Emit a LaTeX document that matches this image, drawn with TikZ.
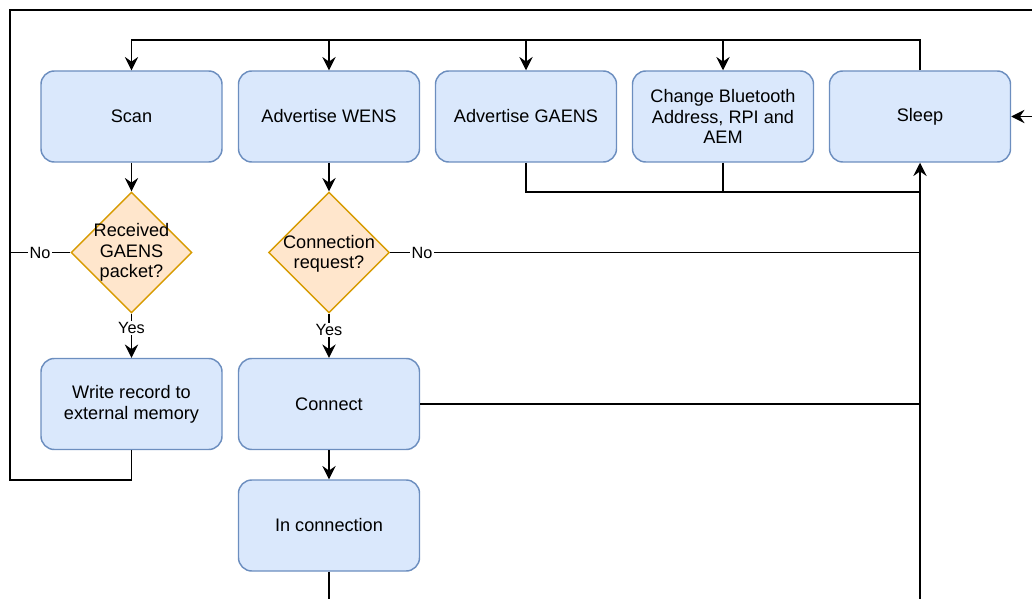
\documentclass[tikz,border=0pt]{standalone}
\usepackage{fontspec}
\setmainfont{Liberation Sans}
\usetikzlibrary{arrows.meta,shapes.geometric}
\definecolor{boxfill}{HTML}{DAE8FC}
\definecolor{boxline}{HTML}{6C8EBF}
\definecolor{diafill}{HTML}{FFE6CC}
\definecolor{dialine}{HTML}{D79B00}
\begin{document}
\begin{tikzpicture}[x=0.75pt,y=-0.75pt,
  box/.style={draw=boxline, fill=boxfill, rounded corners=10pt, minimum width=135.75pt, minimum height=68.25pt, line width=1.1pt, align=center, font=\fontsize{13.6}{15.6}\selectfont, inner sep=0pt},
  dia/.style={draw=dialine, fill=diafill, diamond, minimum width=90.75pt, minimum height=90.75pt, line width=1.1pt, inner sep=0pt},
  txt/.style={align=center, font=\fontsize{13.6}{15.4}\selectfont, inner sep=0pt},
  lbl/.style={fill=white, font=\fontsize{12.2}{14}\selectfont, inner sep=1pt},
  conn/.style={line width=1.1pt, black},
  arr/.style={conn, -{Stealth[length=10pt,width=10pt,inset=3.5pt]}}
]
\useasboundingbox (0,0) rectangle (1032,599);
\clip (0,0) rectangle (1032,599);

% top row
\node[box] (scan) at (131.5,116.5) {Scan};
\node[box] (wens) at (329,116.5) {Advertise WENS};
\node[box] (gaens) at (526,116.5) {Advertise GAENS};
\node[box] (change) at (723,116.5) {Change Bluetooth\\Address, RPI and\\AEM};
\node[box] (sleep) at (920,116.5) {Sleep};

% decisions
\node[dia] (d1) at (131.5,252.5) {};
\node[txt] (d1t) at (d1) {Received\\GAENS\\packet?};
\node[dia] (d2) at (329,252.5) {};
\node[txt] (d2t) at ([yshift=-1pt]d2) {Connection\\request?};

% lower boxes
\node[box] (write) at (131.5,404) {Write record to\\external memory};
\node[box] (connect) at (329,404) {Connect};
\node[box] (inconn) at (329,525.5) {In connection};

% distribution bus from Sleep
\coordinate (bus) at (920,40);
\draw[arr] (sleep.north) -- (bus) -| (scan.north);
\draw[arr] (wens.north |- bus) -- (wens.north);
\draw[arr] (gaens.north |- bus) -- (gaens.north);
\draw[arr] (change.north |- bus) -- (change.north);

% scan branch
\draw[arr] (scan.south) -- (d1.north);
\draw[arr] (d1.south) -- node[lbl, pos=0.33] (yes1) {Yes} (write.north);
\coordinate (lft) at (10,252.5);
\draw[conn] (d1.west) -- node[lbl, pos=0.5] (no1) {No} (lft);
\draw[arr] (write.south) -- (131.5,480) -- (10,480) -- (10,10) -- (1050,10) -- (1050,116.5) -- (sleep.east);

% advertise WENS branch
\draw[arr] (wens.south) -- (d2.north);
\draw[arr] (d2.south) -- node[lbl, pos=0.38] (yes2) {Yes} (connect.north);
\coordinate (rt) at (920,252.5);
\draw[conn] (d2.east) -- node[lbl, pos=0.06] (no2) {No} (rt);
\draw[conn] (connect.east) -- (connect.east -| sleep.south);
\draw[arr] (connect.south) -- (inconn.north);
\draw[arr] (inconn.south) -- (329,620) -- (920,620) -- (sleep.south);

% GAENS / change to sleep
\coordinate (j) at (920,192);
\draw[conn] (gaens.south) |- (j);
\draw[conn] (change.south) -- (change.south |- j);
\end{tikzpicture}
\end{document}
